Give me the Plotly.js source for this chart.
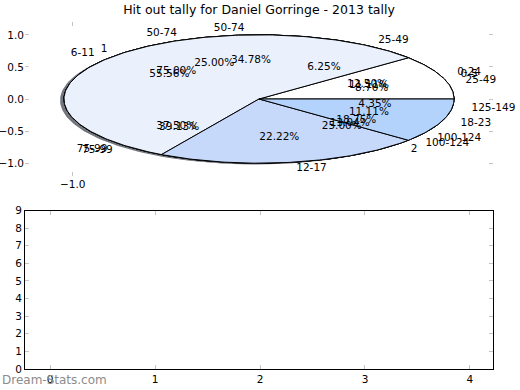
<!DOCTYPE html>
<html>
<head>
<meta charset="utf-8">
<script src="https://cdn.plot.ly/plotly-3.0.1.min.js"></script>
<style>html,body{margin:0;padding:0;background:#fff;}#chart{width:520px;height:390px;}</style>
</head>
<body>
<div id="chart"></div>
<script>
// ---- data (four pies drawn on top of each other) ----
const pieDLabels = ["1", "2"];
const pieDValues = [3, 1];
const pieCLabels = ["0-24", "25-49", "50-74", "75-99", "100-124"];
const pieCValues = [2, 1, 4, 6, 3];
const pieALabels = ["25-49", "50-74", "75-99", "100-124", "125-149"];
const pieAValues = [2, 8, 9, 3, 1];
const pieBLabels = ["0-5", "6-11", "12-17", "18-23"];
const pieBValues = [1, 5, 2, 1];

const yTickVals = [-1, -0.5, 0, 0.5, 1];
const yTickText = ["\u22121.0", "\u22120.5", "0.0", "0.5", "1.0"];
const bottomXTicks = [0, 1, 2, 3, 4];
const bottomYTicks = [0, 1, 2, 3, 4, 5, 6, 7, 8, 9];

const palette = ["#ffffff", "#eaf1fd", "#c6d9fa", "#b3d3fd", "#a3c6f6"];
const pies = [
  {labels: pieDLabels, values: pieDValues},
  {labels: pieCLabels, values: pieCValues},
  {labels: pieALabels, values: pieAValues},
  {labels: pieBLabels, values: pieBValues}
];

const FONT = "DejaVu Sans, Liberation Sans, sans-serif";
const traces = [];
const shadowTraces = [];
const textTraces = [];

function wedge(t1, t2, dx, dy) {
  const xs = [dx], ys = [dy];
  const n = Math.max(4, Math.ceil((t2 - t1) / 1));
  for (let i = 0; i <= n; i++) {
    const a = (t1 + (t2 - t1) * i / n) * Math.PI / 180;
    xs.push(dx + Math.cos(a));
    ys.push(dy + Math.sin(a));
  }
  xs.push(dx); ys.push(dy);
  return {xs, ys};
}

pies.forEach(function (p) {
  const total = p.values.reduce((s, v) => s + v, 0);
  let start = 0;
  const lx = [], ly = [], lt = [], lp = [];
  const px = [], py = [], pt = [];
  p.values.forEach(function (v, i) {
    const sweep = 360 * v / total;
    const end = start + sweep;
    const mid = (start + sweep / 2) * Math.PI / 180;
    // shadow
    const s = wedge(start, end, -0.02, -0.02);
    shadowTraces.push({x: s.xs, y: s.ys, xaxis: "x", yaxis: "y", mode: "lines", fill: "toself",
      fillcolor: "rgba(20,25,40,0.2)", line: {width: 0}, hoverinfo: "skip", showlegend: false});
    // wedge
    const w = wedge(start, end, 0, 0);
    traces.push({x: w.xs, y: w.ys, xaxis: "x", yaxis: "y", mode: "lines", fill: "toself",
      fillcolor: palette[i % palette.length], line: {color: "#000000", width: 1},
      hoverinfo: "skip", showlegend: false});
    const cx = 1.1 * Math.cos(mid), cy = 1.1 * Math.sin(mid);
    lx.push(cx); ly.push(cy); lt.push(p.labels[i]);
    lp.push(cx > 0 ? "middle right" : "middle left");
    px.push(0.6 * Math.cos(mid)); py.push(0.6 * Math.sin(mid));
    pt.push((100 * v / total).toFixed(2) + "%");
    start = end;
  });
  textTraces.push({x: lx, y: ly, text: lt, textposition: lp, mode: "text", xaxis: "x", yaxis: "y",
    textfont: {family: FONT, size: 10.5, color: "#000"}, hoverinfo: "skip", showlegend: false, cliponaxis: false});
  textTraces.push({x: px, y: py, text: pt, textposition: "middle center", mode: "text", xaxis: "x", yaxis: "y",
    textfont: {family: FONT, size: 10.5, color: "#000"}, hoverinfo: "skip", showlegend: false, cliponaxis: false});
});

// empty lower axes
const emptyTrace = {x: [], y: [], xaxis: "x2", yaxis: "y2", type: "bar", hoverinfo: "skip", showlegend: false};

const data = shadowTraces.concat(traces, textTraces, [emptyTrace]);

const W = 520, H = 390;
const xdom = [25 / W, 493 / W];
const layout = {
  width: W, height: H,
  margin: {l: 0, r: 0, t: 0, b: 0},
  paper_bgcolor: "#ffffff", plot_bgcolor: "rgba(0,0,0,0)",
  font: {family: FONT, size: 10.5, color: "#000"},
  title: {text: "Hit out tally for Daniel Gorringe - 2013 tally", font: {family: FONT, size: 12.5, color: "#000"},
    x: 259 / W, xanchor: "center", y: 1 - 10 / H, yanchor: "middle"},
  showlegend: false,
  xaxis: {domain: xdom, range: [-1.2, 1.2], anchor: "y", showgrid: false, zeroline: false, showline: false,
    ticks: "inside", ticklen: 4, tickcolor: "#c4c4c4", mirror: "ticks",
    tickvals: [-0.955], ticktext: ["\u22121.0"], tickfont: {family: FONT, size: 10.5, color: "#000"}, fixedrange: true},
  yaxis: {domain: [(H - 176) / H, (H - 22) / H], range: [-1.2, 1.2], anchor: "x", showgrid: false, zeroline: false,
    showline: false, ticks: "inside", ticklen: 4, tickcolor: "#c4c4c4", mirror: "ticks",
    tickvals: yTickVals, ticktext: yTickText, tickfont: {family: FONT, size: 10.5, color: "#000"}, fixedrange: true},
  xaxis2: {domain: xdom, range: [-0.24, 4.22], anchor: "y2", showgrid: false, zeroline: false, showline: true,
    linecolor: "#000", linewidth: 1, mirror: "ticks", ticks: "inside", ticklen: 4, tickcolor: "#c4c4c4",
    tickvals: bottomXTicks, tickfont: {family: FONT, size: 10.5, color: "#000"}, fixedrange: true},
  yaxis2: {domain: [(H - 369) / H, (H - 210.5) / H], range: [0, 9], anchor: "x2", showgrid: false, zeroline: false,
    showline: true, linecolor: "#000", linewidth: 1, mirror: "ticks", ticks: "inside", ticklen: 4,
    tickcolor: "#c4c4c4", tickvals: bottomYTicks, tickfont: {family: FONT, size: 10.5, color: "#000"}, fixedrange: true},
  annotations: [{text: "Dream-Stats.com", xref: "paper", yref: "paper", x: 0, xanchor: "left",
    y: 1 - 380 / H, yanchor: "middle", showarrow: false, font: {family: FONT, size: 12, color: "#8c8c8c"}}]
};

Plotly.newPlot("chart", data, layout, {staticPlot: true, displayModeBar: false});
</script>
</body>
</html>
